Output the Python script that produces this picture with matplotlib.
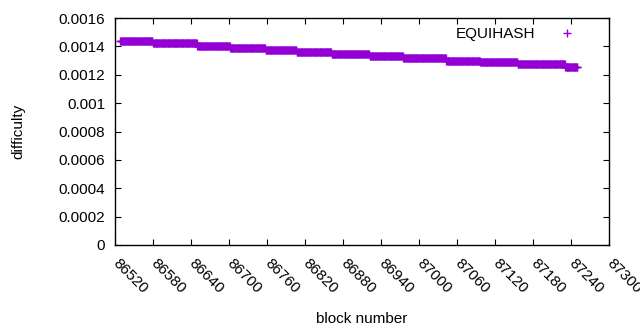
import numpy as np
import matplotlib
matplotlib.use("Agg")
from matplotlib import pyplot as plt

plt.rcParams['font.family'] = ['Liberation Sans', 'DejaVu Sans']

# difficulty stays flat between retargets: first block of each step and its value
step_start = [86528, 86580, 86650, 86702, 86758, 86807, 86862,
              86922, 86975, 87043, 87097, 87156, 87231]
last_block = 87250
step_difficulty = [0.001436, 0.001422, 0.001403, 0.001391, 0.001374,
                   0.001360, 0.001345, 0.001330, 0.001316, 0.001300,
                   0.001288, 0.001276, 0.001257]

x_ticks = list(range(86520, 87301, 60))
y_ticks = [0, 0.0002, 0.0004, 0.0006, 0.0008, 0.001, 0.0012, 0.0014, 0.0016]
y_labels = ['0', '0.0002', '0.0004', '0.0006', '0.0008', '0.001',
            '0.0012', '0.0014', '0.0016']

blocks = np.arange(step_start[0], last_block + 1)
ends = step_start[1:] + [last_block + 1]
difficulty = np.concatenate([np.full(e - s, d) for s, e, d in
                             zip(step_start, ends, step_difficulty)])

fig = plt.figure(figsize=(6.4, 3.3), dpi=100)
ax = fig.add_axes([115 / 640, 1 - 245 / 330, 494 / 640, 227 / 330])

ax.plot(blocks, difficulty, '+', color='#9400d3', markersize=5.5,
        markeredgewidth=1.0, label='EQUIHASH')

ax.set_xlim(86520, 87300)
ax.set_ylim(0, 0.0016)
ax.set_xticks(x_ticks)
ax.set_xticklabels([str(t) for t in x_ticks], rotation=-45, ha='left',
                   va='center', rotation_mode='anchor')
ax.set_yticks(y_ticks)
ax.set_yticklabels(y_labels)
ax.tick_params(direction='in', length=4.5, width=0.8, top=True, right=True,
               labelsize=11, colors='black')
ax.tick_params(axis='x', pad=12)
ax.tick_params(axis='y', pad=7)
for s in ax.spines.values():
    s.set_linewidth(1.0)

ax.set_xlabel('block number', fontsize=11, labelpad=11)
ax.set_ylabel('difficulty', fontsize=11, labelpad=24)

ax.legend(loc='upper right', frameon=False, markerfirst=False, fontsize=11,
          handlelength=1.0, handletextpad=1.6, bbox_to_anchor=(0.958, 1.02),
          markerscale=1.05)

fig.savefig('out.png', dpi=100)
